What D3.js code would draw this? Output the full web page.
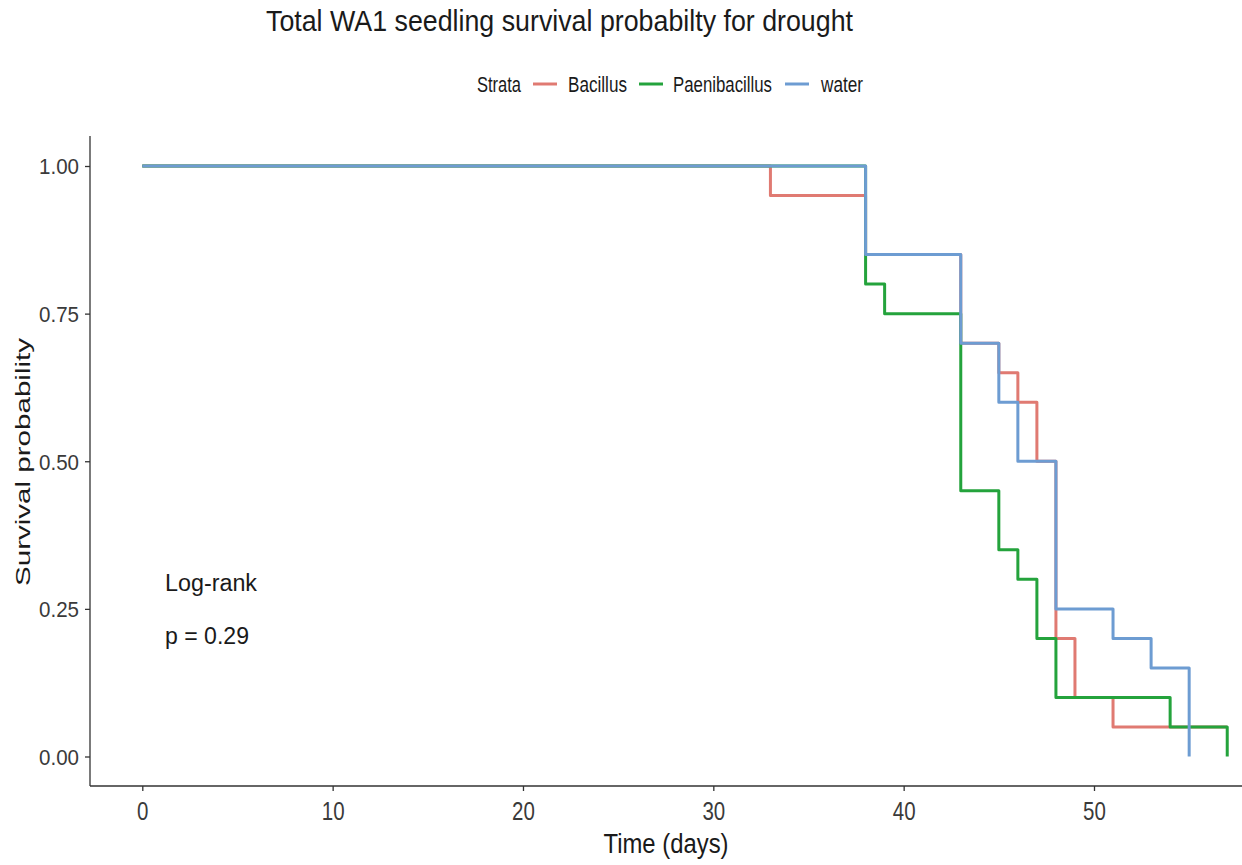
<!DOCTYPE html>
<html>
<head>
<meta charset="utf-8">
<script src="https://cdn.jsdelivr.net/npm/d3@7"></script>
<style>
  html, body { margin: 0; padding: 0; background: #fff; }
  svg { display: block; font-family: "Liberation Sans", Arial, sans-serif; }
</style>
</head>
<body>
<svg id="chart" width="1242" height="865"></svg>
<script>
// ---- data ----
const seriesNames = ["Bacillus", "Paenibacillus", "water"];
const bacillusTime = [0, 33, 38, 43, 45, 46, 47, 48, 49, 51, 57];
const bacillusSurv = [1, 0.95, 0.85, 0.70, 0.65, 0.60, 0.50, 0.20, 0.10, 0.05, 0.05];
const paeniTime = [0, 38, 39, 43, 45, 46, 47, 48, 54, 57];
const paeniSurv = [1, 0.80, 0.75, 0.45, 0.35, 0.30, 0.20, 0.10, 0.05, 0];
const waterTime = [0, 38, 43, 45, 46, 48, 51, 53, 55];
const waterSurv = [1, 0.85, 0.70, 0.60, 0.50, 0.25, 0.20, 0.15, 0];
const xTicks = [0, 10, 20, 30, 40, 50];
const yTicks = [0, 0.25, 0.5, 0.75, 1];
const colors = ["#E07A72", "#24A33C", "#6D9CD2"];

const titleText = "Total WA1 seedling survival probabilty for drought";
const legendTitle = "Strata";
const xTitle = "Time (days)";
const yTitle = "Survival probability";
const annot1 = "Log-rank";
const annot2 = "p = 0.29";

// ---- layout ----
const svg = d3.select("#chart");
const axisLeftX = 90, axisBottomY = 786, plotRight = 1242, plotTop = 136;
const x = d3.scaleLinear().domain([0, 50]).range([142.3, 1094]);
const y = d3.scaleLinear().domain([0, 1]).range([756.5, 166]);

function addText(g, px, py, str, size, len, anchor) {
  const t = g.append("text")
    .attr("x", px).attr("y", py)
    .attr("font-size", size)
    .attr("text-anchor", anchor || "start")
    .attr("fill", "#1a1a1a")
    .text(str);
  if (len) t.attr("textLength", len).attr("lengthAdjust", "spacingAndGlyphs");
  return t;
}

// title
addText(svg, 266, 31, titleText, 30, 587, "start");

// legend
const leg = svg.append("g");
addText(leg, 477, 92, legendTitle, 22, 44, "start");
const legItems = [
  { line: [533, 557], tx: 568, len: 59 },
  { line: [639, 663], tx: 673, len: 99 },
  { line: [785, 809], tx: 821, len: 42 }
];
legItems.forEach((d, i) => {
  leg.append("line")
    .attr("x1", d.line[0]).attr("x2", d.line[1])
    .attr("y1", 84).attr("y2", 84)
    .attr("stroke", colors[i]).attr("stroke-width", 3);
  addText(leg, d.tx, 92, seriesNames[i], 22, d.len, "start");
});

// axes lines
const axisColor = "#333";
svg.append("line").attr("x1", axisLeftX).attr("x2", axisLeftX)
  .attr("y1", plotTop).attr("y2", axisBottomY)
  .attr("stroke", axisColor).attr("stroke-width", 1.3);
svg.append("line").attr("x1", axisLeftX).attr("x2", plotRight)
  .attr("y1", axisBottomY).attr("y2", axisBottomY)
  .attr("stroke", axisColor).attr("stroke-width", 1.3);

// bottom axis
const xAxisG = svg.append("g").attr("transform", `translate(0,${axisBottomY})`)
  .call(d3.axisBottom(x).tickValues(xTicks).tickSize(5).tickPadding(4).tickFormat(d3.format("d")));
xAxisG.select(".domain").remove();
xAxisG.selectAll(".tick line").attr("stroke", axisColor).attr("stroke-width", 1.3);
xAxisG.selectAll(".tick text")
  .attr("font-size", 25).attr("fill", "#3a3a3a")
  .attr("font-family", "'Liberation Sans', Arial, sans-serif")
  .attr("y", 34).attr("dy", null)
  .attr("transform", "scale(0.82,1)")
  .attr("x", 0);

// left axis
const yAxisG = svg.append("g").attr("transform", `translate(${axisLeftX},0)`)
  .call(d3.axisLeft(y).tickValues(yTicks).tickSize(5).tickPadding(5).tickFormat(d3.format(".2f")));
yAxisG.select(".domain").remove();
yAxisG.selectAll(".tick line").attr("stroke", axisColor).attr("stroke-width", 1.3);
yAxisG.selectAll(".tick text")
  .attr("font-size", 22).attr("fill", "#3a3a3a")
  .attr("font-family", "'Liberation Sans', Arial, sans-serif")
  .attr("x", -11).attr("dy", "0.36em")
  .attr("textLength", 40).attr("lengthAdjust", "spacingAndGlyphs");

// axis titles
addText(svg, 666, 853, xTitle, 27, 125, "middle");
const yt = addText(svg, 0, 0, yTitle, 21, 248, "middle");
yt.attr("transform", "translate(30,462) rotate(-90)");

// survival curves
const line = d3.line().curve(d3.curveStepAfter).x(d => x(d[0])).y(d => y(d[1]));
const series = [
  d3.zip(bacillusTime, bacillusSurv),
  d3.zip(paeniTime, paeniSurv),
  d3.zip(waterTime, waterSurv)
];
series.forEach((pts, i) => {
  svg.append("path")
    .datum(pts)
    .attr("d", line)
    .attr("fill", "none")
    .attr("stroke", colors[i])
    .attr("stroke-width", 3)
    .attr("stroke-linejoin", "round");
});

// annotation
addText(svg, 165, 591, annot1, 23, 92, "start");
addText(svg, 165, 644, annot2, 23, 84, "start");
</script>
</body>
</html>
